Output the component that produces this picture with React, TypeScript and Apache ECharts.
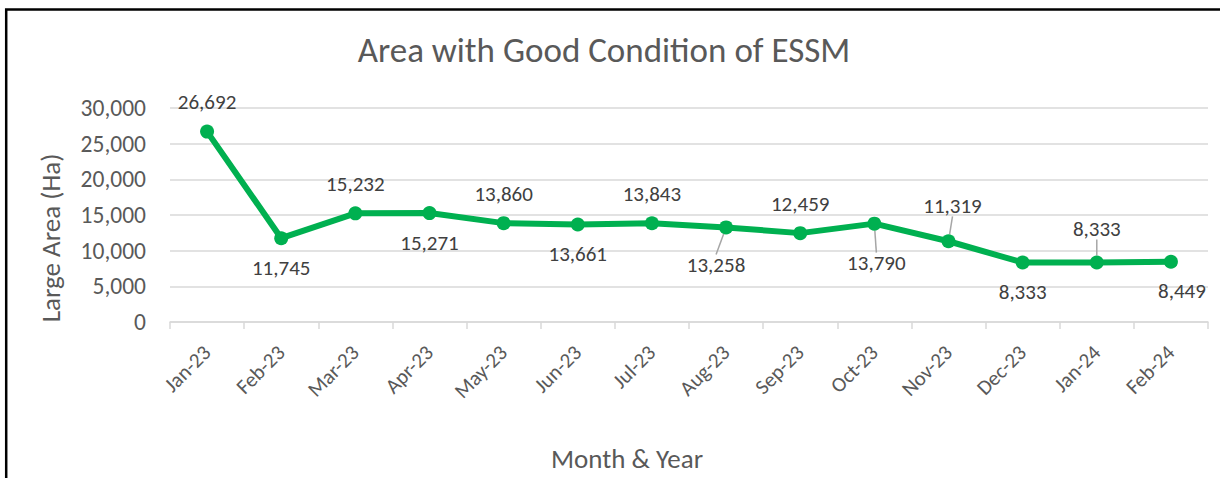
import React, { useEffect, useRef } from "react";
import * as echarts from "echarts";

const categories = [
  "Jan-23", "Feb-23", "Mar-23", "Apr-23", "May-23", "Jun-23", "Jul-23",
  "Aug-23", "Sep-23", "Oct-23", "Nov-23", "Dec-23", "Jan-24", "Feb-24",
];
const values = [26692, 11745, 15232, 15271, 13860, 13661, 13843, 13258, 12459, 13790, 11319, 8333, 8333, 8449];
const labelPositions = ["top", "bottom", "top", "bottom", "top", "bottom", "top", "bottom", "top", "bottom", "top", "bottom", "top", "bottom"];
const yTicks = [0, 5000, 10000, 15000, 20000, 25000, 30000];

const FONT = "Carlito, Calibri, Lato, sans-serif";
const fmt = (v: number) => v.toLocaleString("en-US");

// label layout shifts for labels that have leader lines
const labelShift: Record<number, [number, number]> = {
  7: [-10, 8],
  9: [2, 10],
  10: [4, -6],
  12: [0, -4],
  13: [11, 0],
};
const leaderIdx = [7, 9, 10, 12];

export default function App() {
  const ref = useRef<HTMLDivElement>(null);
  useEffect(() => {
    if (!ref.current) return;
    const chart = echarts.init(ref.current, undefined, { renderer: "svg" });
    chart.setOption({
      animation: false,
      backgroundColor: "#ffffff",
      textStyle: { fontFamily: FONT },
      title: {
        text: "Area with Good Condition of ESSM",
        left: 599,
        top: 27,
        textAlign: "center",
        textStyle: { fontFamily: FONT, fontSize: 35, fontWeight: "normal", color: "#595959" },
      },
      graphic: [
        {
          type: "rect",
          shape: { x: 6.2, y: 9.4, width: 1300, height: 600 },
          style: { fill: "none", stroke: "#000000", lineWidth: 2.5 },
          silent: true,
        },
      ],
      grid: { left: 170, right: 12, top: 108, bottom: 156, containLabel: false },
      xAxis: {
        type: "category",
        data: categories,
        boundaryGap: true,
        name: "Month & Year",
        nameLocation: "middle",
        nameGap: 123,
        nameTextStyle: { fontFamily: FONT, fontSize: 27, color: "#595959", padding: [0, 124, 0, 0] },
        axisLine: { lineStyle: { color: "#D9D9D9", width: 1.5 } },
        axisTick: { show: true, alignWithLabel: false, length: 7, lineStyle: { color: "#D9D9D9", width: 1.5 } },
        axisLabel: { rotate: 45, fontSize: 21, color: "#595959", margin: 27, fontFamily: FONT, interval: 0 },
      },
      yAxis: {
        type: "value",
        min: 0,
        max: 30000,
        interval: 5000,
        name: "Large Area (Ha)",
        nameLocation: "middle",
        nameGap: 106,
        nameRotate: 90,
        nameTextStyle: { fontFamily: FONT, fontSize: 27, color: "#595959", padding: [0, 46, 0, 0] },
        axisLine: { show: false },
        axisTick: { show: false },
        splitLine: { lineStyle: { color: "#D9D9D9", width: 1.5 } },
        axisLabel: {
          fontSize: 23.5,
          color: "#595959",
          margin: 24,
          fontFamily: FONT,
          customValues: yTicks,
          formatter: (v: number) => fmt(v),
        },
      },
      series: [
        {
          type: "line",
          data: values.map((v, i) => ({
            value: v,
            label: { position: labelPositions[i] },
            labelLine: { show: leaderIdx.includes(i) },
          })),
          symbol: "circle",
          symbolSize: 14,
          lineStyle: { color: "#00B050", width: 6 },
          itemStyle: { color: "#00B050" },
          label: {
            show: true,
            fontSize: 21,
            color: "#404040",
            distance: 12,
            fontFamily: FONT,
            formatter: (p: any) => fmt(p.value),
          },
          labelLine: { show: false, lineStyle: { color: "#A6A6A6", width: 1.5 } },
          labelLayout: (p: any) => {
            const s = labelShift[p.dataIndex];
            if (!s) return {};
            return { dx: s[0], dy: s[1] };
          },
        },
      ],
    });
    return () => chart.dispose();
  }, []);
  return (
    <div
      ref={ref}
      style={{ position: "absolute", left: 0, top: 0, width: 1220, height: 478 }}
    />
  );
}
